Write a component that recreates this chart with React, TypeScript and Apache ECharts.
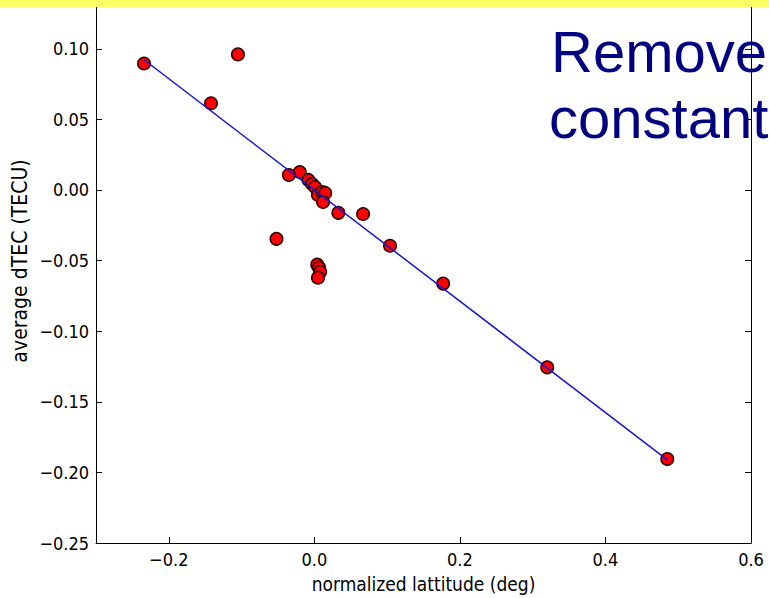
import React, { useEffect, useRef } from "react";
import * as echarts from "echarts";

// scatter points (normalized latitude, average dTEC)
const pointX = [
  -0.234, -0.105, -0.142, -0.020, -0.035, -0.052,
  -0.008, -0.003, 0.001, 0.005, 0.011, 0.015, 0.012,
  0.004, 0.0065, 0.008, 0.005,
  0.033, 0.067, 0.104, 0.177, 0.320, 0.485,
];
const pointY = [
  0.0896, 0.0960, 0.0614, 0.0127, 0.0106, -0.0346,
  0.0071, 0.0042, 0.0021, -0.0035, -0.0014, -0.0021, -0.0085,
  -0.0529, -0.0550, -0.0579, -0.0621,
  -0.0162, -0.0170, -0.0395, -0.0663, -0.1256, -0.1905,
];
// fitted line end points
const lineX = [-0.234, 0.485];
const lineY = [0.0922, -0.1911];

const xTicks = [-0.2, 0.0, 0.2, 0.4, 0.6];
const yTicks = [-0.25, -0.2, -0.15, -0.1, -0.05, 0.0, 0.05, 0.1];

const xName = "normalized lattitude (deg)";
const yName = "average dTEC (TECU)";
const titleLines = ["Remove", "constant"];

const fmt = (v: number, d: number) => {
  const s = Math.abs(v).toFixed(d);
  return v < -1e-9 ? "\u2212" + s : s;
};

const FONT = '"DejaVu Sans Condensed", "DejaVu Sans"';

export default function App() {
  const ref = useRef<HTMLDivElement>(null);
  useEffect(() => {
    if (!ref.current) return;
    const chart = echarts.init(ref.current, null, { renderer: "svg" });
    const pts = pointX.map((x, i) => [x, pointY[i]]);
    const linePts = lineX.map((x, i) => [x, lineY[i]]);
    chart.setOption({
      animation: false,
      backgroundColor: "#ffffff",
      grid: { left: 96, right: 18, top: 6.4, bottom: 53 },
      xAxis: {
        type: "value",
        min: -0.3,
        max: 0.6,
        splitLine: { show: false },
        axisLine: { show: true, onZero: false, lineStyle: { color: "#000", width: 1 } },
        axisTick: {
          show: true,
          inside: true,
          length: 6,
          customValues: xTicks,
          lineStyle: { color: "#000" },
        },
        axisLabel: {
          customValues: xTicks,
          formatter: (v: number) => fmt(v, 1),
          color: "#000",
          fontFamily: FONT,
          fontSize: 18,
          margin: 7,
        },
        name: xName,
        nameLocation: "middle",
        nameGap: 31,
        nameTextStyle: { color: "#000", fontFamily: FONT, fontSize: 19 },
      },
      yAxis: [
        {
          type: "value",
          min: -0.25,
          max: 0.13,
          splitLine: { show: false },
          axisLine: { show: true, onZero: false, lineStyle: { color: "#000", width: 1 } },
          axisTick: {
            show: true,
            inside: true,
            length: 6,
            customValues: yTicks,
            lineStyle: { color: "#000" },
          },
          axisLabel: {
            customValues: yTicks,
            formatter: (v: number) => fmt(v, 2),
            color: "#000",
            fontFamily: FONT,
            fontSize: 18,
            margin: 7,
          },
        },
        {
          type: "value",
          position: "right",
          min: -0.25,
          max: 0.13,
          splitLine: { show: false },
          axisLine: { show: true, onZero: false, lineStyle: { color: "#000", width: 1 } },
          axisTick: {
            show: true,
            inside: true,
            length: 6,
            customValues: yTicks,
            lineStyle: { color: "#000" },
          },
          axisLabel: { show: false },
        },
      ],
      series: [
        {
          type: "scatter",
          data: pts,
          symbol: "circle",
          symbolSize: 12.5,
          itemStyle: { color: "#ff0000", borderColor: "#2a0000", borderWidth: 1.5, opacity: 1 },
          z: 2,
        },
        {
          type: "line",
          data: linePts,
          symbol: "none",
          lineStyle: { color: "#1515d8", width: 1.5 },
          z: 3,
        },
      ],
      graphic: [
        {
          type: "text",
          x: 20,
          y: 261,
          rotation: Math.PI / 2,
          style: {
            text: yName,
            fill: "#000",
            font: `21px ${FONT}`,
            textAlign: "center",
            textVerticalAlign: "middle",
          },
          z: 10,
        },
        {
          type: "text",
          x: 551,
          y: 51,
          style: {
            text: titleLines[0],
            fill: "#000080",
            font: '58px "Liberation Sans"',
            textAlign: "left",
            textVerticalAlign: "middle",
          },
          z: 1,
        },
        {
          type: "text",
          x: 549,
          y: 117,
          style: {
            text: titleLines[1],
            fill: "#000080",
            font: '58px "Liberation Sans"',
            textAlign: "left",
            textVerticalAlign: "middle",
          },
          z: 1,
        },
        {
          type: "rect",
          shape: { x: 0, y: 0, width: 769, height: 7 },
          style: { fill: "#ffff66" },
          z: 100,
        },
      ],
    });
    return () => chart.dispose();
  }, []);
  return (
    <div
      ref={ref}
      style={{ position: "absolute", left: 0, top: 0, width: 769, height: 598 }}
    />
  );
}
